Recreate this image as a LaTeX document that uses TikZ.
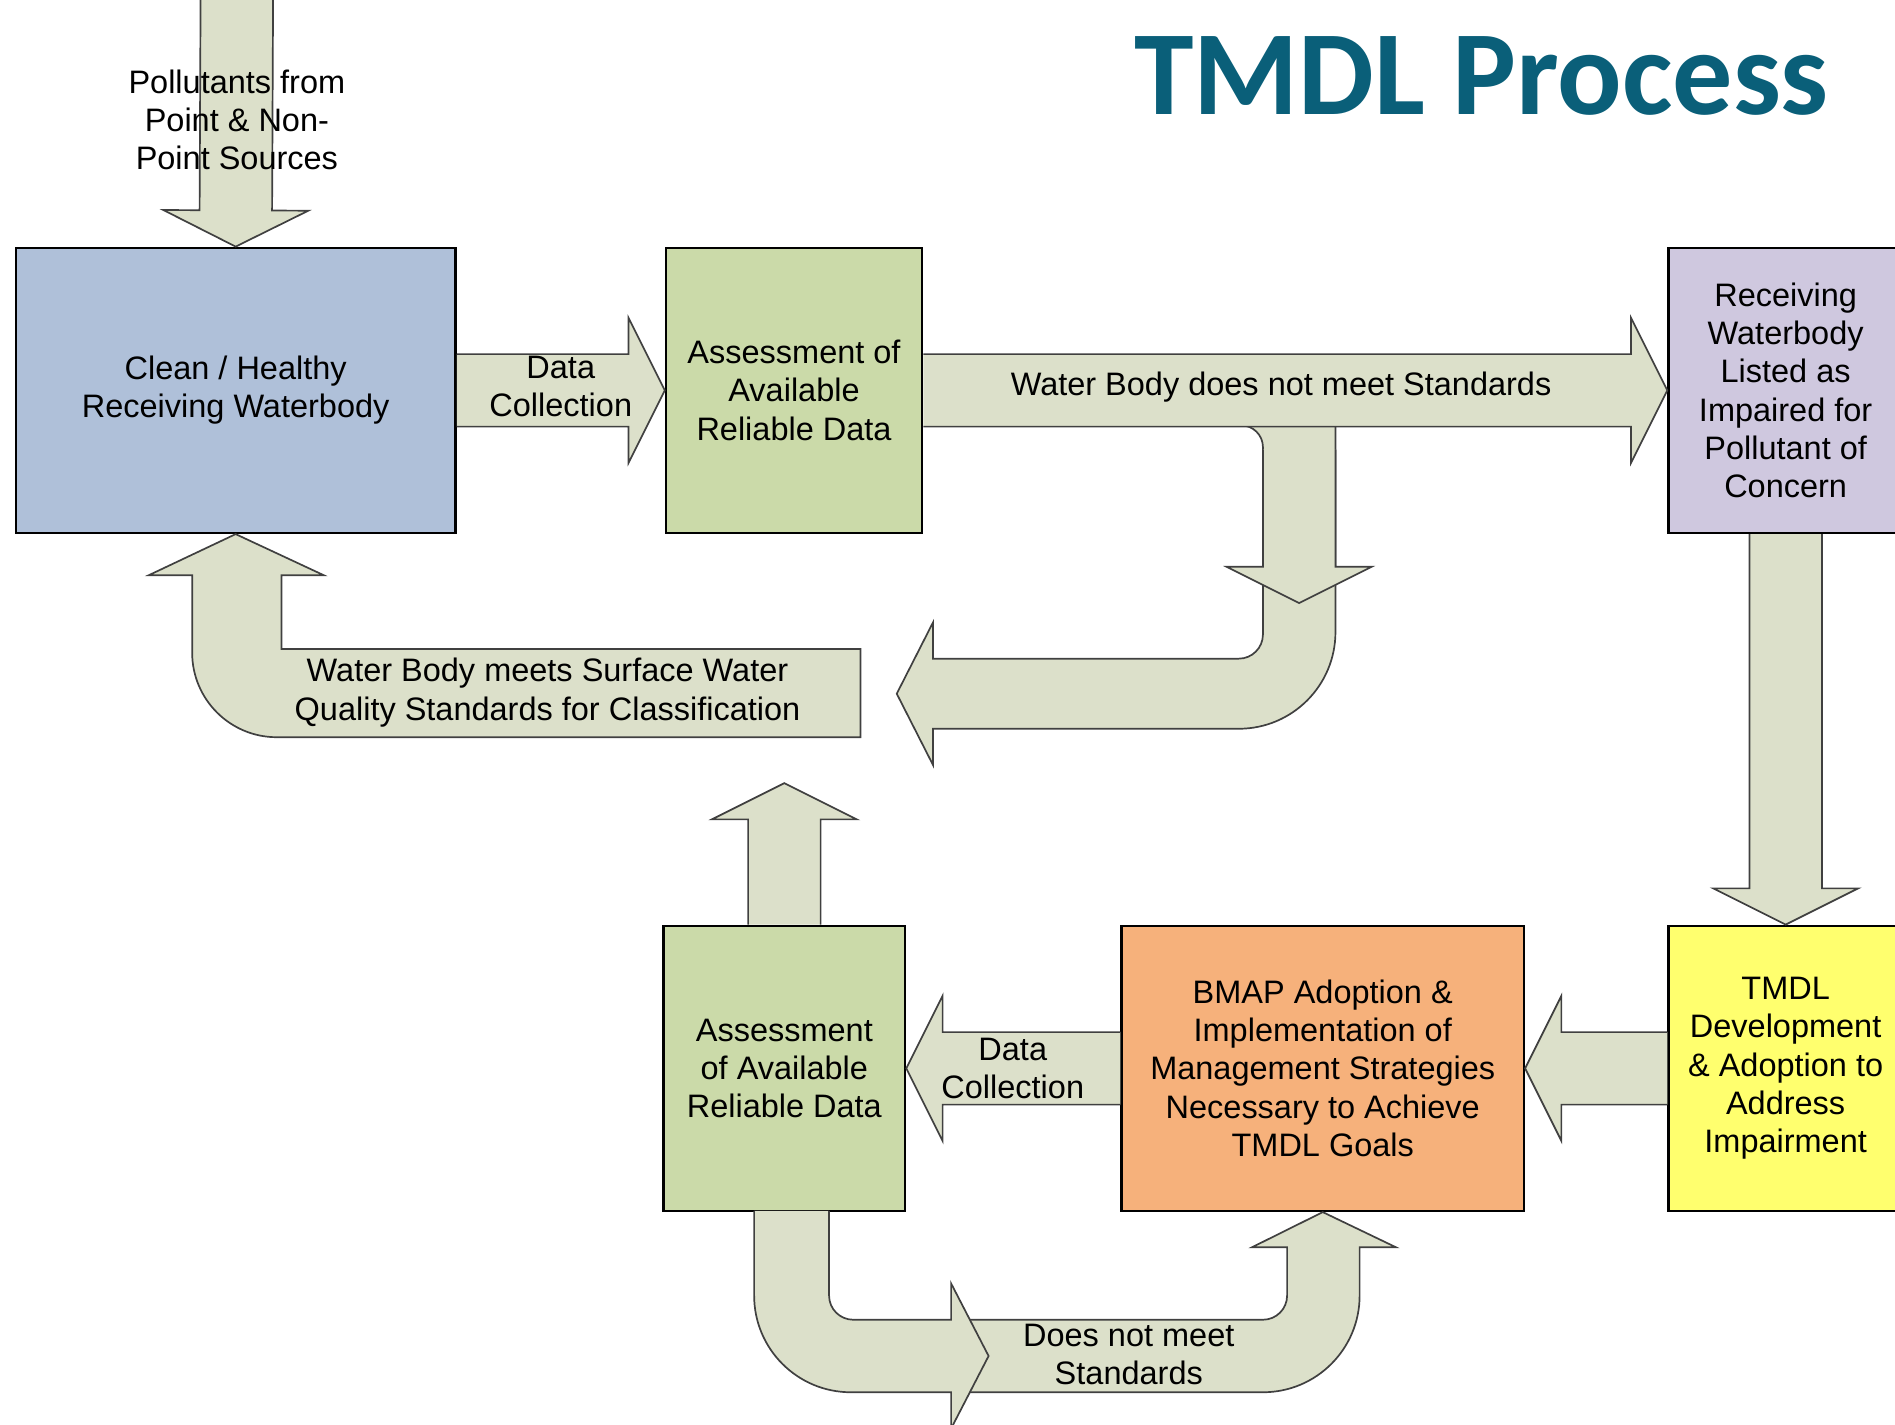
\documentclass[tikz,border=0pt]{standalone}
\usepackage{fontspec}
\setmainfont{Liberation Sans}
\newfontfamily\titlefont{Carlito}
\usetikzlibrary{calc}

\definecolor{cleanblue}{HTML}{AFC0D9}
\definecolor{assessgreen}{HTML}{CBDAA9}
\definecolor{listedpurple}{HTML}{CFC8DF}
\definecolor{bmaporange}{HTML}{F6B17B}
\definecolor{tmdlyellow}{HTML}{FFFF6E}
\definecolor{arrowfill}{HTML}{DCE0CA}
\definecolor{titleteal}{HTML}{0A5F79}

% straight block arrow: shaft starts at #1, tip at #2
\newcommand{\blockarrow}[2]{%
  \coordinate (ba-base) at ($(#2)!0.6cm!(#1)$);
  \draw[barrow] ($(#1)!0.6cm!90:(#2)$) -- ($(ba-base)!0.6cm!90:(#2)$)
    -- ($(ba-base)!1.2cm!90:(#2)$) -- (#2) -- ($(ba-base)!1.2cm!-90:(#2)$)
    -- ($(ba-base)!0.6cm!-90:(#2)$) -- ($(#1)!0.6cm!-90:(#2)$);
}

\begin{document}
\begin{tikzpicture}[x=0.02cm, y=-0.02cm, font=\fontsize{15.3}{18}\selectfont,
    box/.style={draw=black, line width=1.1pt, align=center},
    barrow/.style={draw=black!75, line width=0.8pt, fill=arrowfill},
    lbl/.style={align=center, inner sep=0pt}]
  \useasboundingbox (0,0) rectangle (1568,1179);

  % boxes
  \node[box, fill=cleanblue, minimum width=7.28cm, minimum height=4.72cm] (clean) at (195,323) {Clean / Healthy\\Receiving Waterbody};
  \node[box, fill=assessgreen, minimum width=4.24cm, minimum height=4.72cm] (assessA) at (657,323) {Assessment of\\Available\\Reliable Data};
  \node[box, fill=listedpurple, minimum width=3.88cm, minimum height=4.72cm] (listed) at (1477.5,323) {Receiving\\Waterbody\\Listed as\\Impaired for\\Pollutant of\\Concern};
  \node[box, fill=assessgreen, minimum width=4cm, minimum height=4.72cm] (assessB) at (649,884) {Assessment\\of Available\\Reliable Data};
  \node[box, fill=bmaporange, minimum width=6.66cm, minimum height=4.72cm] (bmap) at (1094.5,884) {BMAP Adoption \&\\Implementation of\\Management Strategies\\Necessary to Achieve\\TMDL Goals};
  \node[box, fill=tmdlyellow, minimum width=3.88cm, minimum height=4.72cm] (tmdl) at (1477.5,884) {TMDL\\Development\\\& Adoption to\\Address\\Impairment};

  \coordinate (inflow) at (196,-10);
  \coordinate (bendtop) at (1075,372);
  \coordinate (bendtip) at (1075,499);
  \coordinate (uptip) at (649,648);

  % arrows
  \blockarrow{inflow}{clean.north}
  \draw[barrow] (1027,352) arc[start angle=-90, end angle=0, radius=18] -- (1045,525)
    arc[start angle=0, end angle=90, radius=20] -- (772,545) -- (772,515) -- (742,574)
    -- (772,633) -- (772,603) -- (1025,603) arc[start angle=90, end angle=0, radius=80]
    -- (1105,352);
  \blockarrow{bendtop}{bendtip}
  \blockarrow{assessA.east}{listed.west}
  \blockarrow{clean.east}{assessA.west}
  \draw[barrow] (712,537) -- (233,537) -- (233,476) -- (268,476) -- (clean.south)
    -- (123,476) -- (159,476) -- (159,540) arc[start angle=180, end angle=90, radius=70]
    -- (712,610) -- cycle;
  \blockarrow{assessB.north}{uptip}
  \blockarrow{bmap.west}{assessB.east}
  \blockarrow{tmdl.west}{bmap.east}
  \blockarrow{listed.south}{tmdl.north}
  \draw[barrow] (795,1092) -- (1045,1092) arc[start angle=90, end angle=0, radius=20]
    -- (1065,1032) -- (1036,1032) -- (bmap.south) -- (1155,1032) -- (1125,1032)
    -- (1125,1072) arc[start angle=0, end angle=90, radius=80] -- (795,1152);
  \draw[barrow] (624,1002) -- (624,1072) arc[start angle=180, end angle=90, radius=80]
    -- (787,1152) -- (787,1182) -- (818,1122) -- (787,1062) -- (787,1092) -- (706,1092)
    arc[start angle=90, end angle=180, radius=20] -- (686,1002);

  % labels
  \node[lbl] (pollutants) at (196,99) {Pollutants from\\Point \& Non-\\Point Sources};
  \node[lbl] (collectA) at (464,320) {Data\\Collection};
  \node[lbl] (notmeet) at (1060,320) {Water Body does not meet Standards};
  \node[lbl] (meets) at (453,573) {Water Body meets Surface Water\\Quality Standards for Classification};
  \node[lbl] (collectB) at (838,884) {Data\\Collection};
  \node[lbl] (doesnot) at (934,1121) {Does not meet\\Standards};

  \node[anchor=base, text=titleteal, font=\fontsize{56.6}{57}\selectfont\titlefont\bfseries] (title) at (1226,95) {TMDL Process};
\end{tikzpicture}
\end{document}
